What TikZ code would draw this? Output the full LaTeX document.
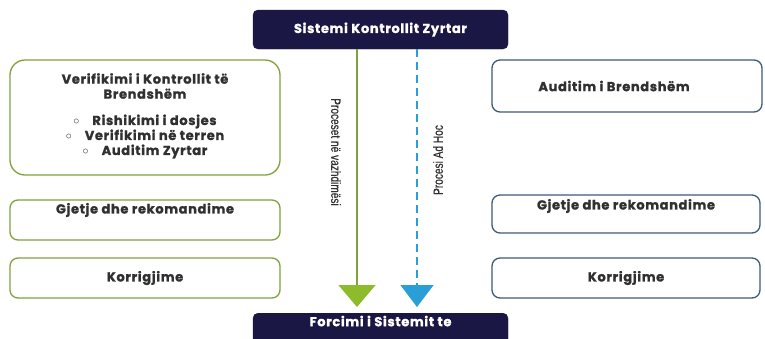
\documentclass[tikz,border=0pt]{standalone}
\usepackage{fontspec}
\setmainfont{Poppins}[BoldFont={Poppins Bold}, BoldFeatures={FakeBold=1.2, LetterSpace=5}]
\newfontfamily\narrowfont[FakeStretch=0.75, FakeBold=0.6]{Liberation Sans}
\usetikzlibrary{arrows.meta}
\definecolor{navy}{HTML}{1B1744}
\definecolor{lgreen}{HTML}{7FA33A}
\definecolor{agreen}{HTML}{8DBB2B}
\definecolor{bframe}{HTML}{3E5C78}
\definecolor{ablue}{HTML}{2A9ED6}
\definecolor{txt}{HTML}{303030}
\tikzset{
  x=1pt, y=-1pt,
  bodyfont/.style={font=\bfseries\fontsize{13}{15}\selectfont},
  darkbox/.style={draw=navy, fill=navy, rounded corners=5pt, text=white, font=\bfseries\fontsize{13}{14}\selectfont},
  gbox/.style={draw=lgreen, line width=1.3pt, rounded corners=8pt, text=txt, bodyfont, align=center},
  bbox/.style={draw=bframe, line width=1.3pt, rounded corners=8pt, text=txt, bodyfont, align=center},
  btext/.style={text=txt, bodyfont, align=center},
  vlabel/.style={text=txt, font=\narrowfont\fontsize{13.5}{14}\selectfont},
  garrow/.style={draw=lgreen, line width=1.4pt, -{Triangle[width=37pt,length=22pt,color=agreen]}},
  barrow/.style={draw=ablue, line width=1.4pt, dash pattern=on 8pt off 5pt, -{Triangle[width=33pt,length=22pt,color=ablue]}},
}
\begin{document}
\begin{tikzpicture}
\useasboundingbox (0,0) rectangle (765,338);
\clip (0,0) rectangle (765,338);
\fill[white] (0,0) rectangle (765,338);
% top and bottom boxes
\node[darkbox, minimum width=255pt, minimum height=39pt] (sys) at (380.5,29.5) {Sistemi Kontrollit Zyrtar};
\node[darkbox, anchor=north, minimum width=255pt, inner ysep=4pt, text height=9pt, text depth=24pt] (forc) at (380.5,313) {Forcimi i Sistemit te};
% left boxes
\node[gbox, rounded corners=15pt, minimum width=270pt, minimum height=115pt] (vk) at (145,117.5) {};
\node[btext] (vkt) at (145,86) {Verifikimi i Kontrollit të\\Brendshëm};
\node[btext] (vkl) at (145,136.5) {$\circ$\quad Rishikimi i dosjes\\$\circ$\quad Verifikimi në terren\\$\circ$\quad Auditim Zyrtar};
\node[gbox, minimum width=270pt, minimum height=40pt] (gl) at (145,220) {};
\node[btext] (glt) at (145,210) {Gjetje dhe rekomandime};
\node[gbox, minimum width=270pt, minimum height=40pt] (kl) at (145,278) {Korrigjime};
% right boxes
\node[bbox, minimum width=270pt, minimum height=52pt] (ab) at (627,86) {};
\node[btext] (abt) at (614,86) {Auditim i Brendshëm};
\node[bbox, minimum width=268pt, minimum height=38pt] (gr) at (626,214) {};
\node[btext] (grt) at (626,206) {Gjetje dhe rekomandime};
\node[bbox, minimum width=268pt, minimum height=40pt] (kr) at (626,278) {Korrigjime};
% arrows
\coordinate (gx) at (357,0);
\coordinate (bx) at (417,0);
\draw[garrow, shorten >=6pt] (sys.south -| gx) -- (forc.north -| gx);
\draw[barrow, shorten >=6pt] (sys.south -| bx) -- (forc.north -| bx);
% labels
\node[vlabel, rotate=-90] (lg) at (336,152) {Proceset në vazhdimësi};
\node[vlabel, rotate=90] (lb) at (438,160) {Procesi Ad Hoc};
\end{tikzpicture}
\end{document}
